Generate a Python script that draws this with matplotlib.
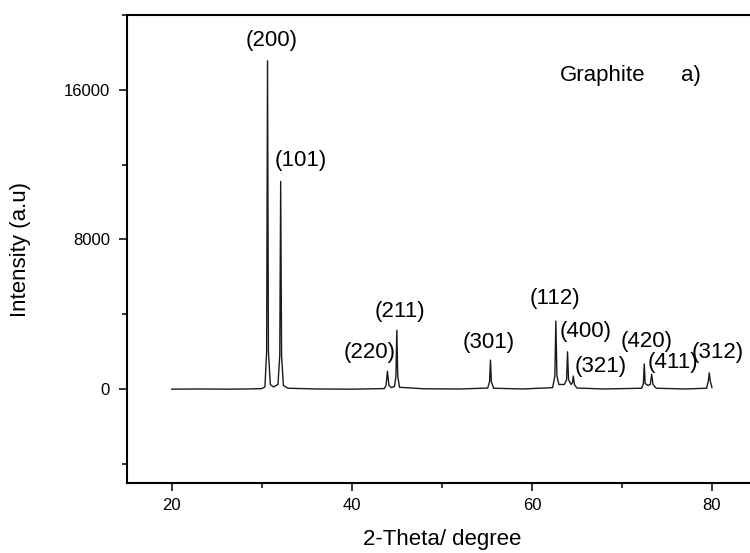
import matplotlib
matplotlib.use("Agg")
import matplotlib.pyplot as plt
from matplotlib.ticker import MultipleLocator

plt.rcParams['font.family'] = ['Liberation Sans', 'DejaVu Sans']

# XRD pattern vertices (2-theta in degrees, intensity in a.u.)
two_theta = [20.0, 23.0, 26.0, 28.5, 30.0, 30.35, 30.54, 30.64, 30.74, 30.95, 31.3,
             31.8, 32.0, 32.1, 32.2, 32.4, 32.9, 36.0, 40.0, 43.6, 43.8, 43.96, 44.12,
             44.4, 44.75, 44.9, 45.0, 45.1, 45.3, 48.0, 52.0, 55.1, 55.3, 55.4, 55.5,
             55.75, 59.0, 62.3, 62.55, 62.66, 62.78, 63.0, 63.6, 63.85, 63.96, 64.07,
             64.35, 64.5, 64.6, 64.72, 65.0, 68.0, 72.2, 72.38, 72.48, 72.58, 72.9,
             73.15, 73.3, 73.45, 73.8, 77.0, 79.4, 79.6, 79.7, 79.8, 80.0]
intensity = [0, 10, 0, 10, 30, 120, 2000, 17550, 2000, 250, 120,
             250, 1800, 11100, 1800, 200, 50, 10, 0, 30, 200, 960, 200,
             80, 150, 700, 3150, 700, 100, 20, 10, 60, 400, 1550, 400,
             50, 10, 80, 700, 3640, 700, 250, 250, 500, 2000, 500,
             250, 350, 700, 250, 60, 10, 50, 300, 1350, 300, 200,
             250, 790, 250, 50, 10, 50, 450, 870, 450, 80]

# Miller index labels (text, x, y) in data units
hkl_labels = ["(200)", "(101)", "(220)", "(211)", "(301)", "(112)",
              "(400)", "(321)", "(420)", "(411)", "(312)"]
hkl_x = [31.14, 34.35, 41.93, 45.31, 55.2, 62.53, 65.95, 67.64, 72.76, 75.62, 80.61]
hkl_y = [18620, 12200, 1940, 4170, 2480, 4850, 3100, 1230, 2570, 1440, 1940]

fig = plt.figure(figsize=(7.5, 5.53), dpi=100)
ax = fig.add_axes([126.7 / 750, 1 - 482.7 / 553, (757 - 126.7) / 750, (482.7 - 15) / 553])

ax.plot(two_theta, intensity, color='#1a1a1a', linewidth=1.0)

ax.set_xlim(15, 85)
ax.set_ylim(-5000, 20000)

ax.xaxis.set_major_locator(MultipleLocator(20))
ax.xaxis.set_minor_locator(MultipleLocator(10))
ax.yaxis.set_major_locator(MultipleLocator(8000))
ax.yaxis.set_minor_locator(MultipleLocator(4000))

for s in ax.spines.values():
    s.set_linewidth(1.5)
ax.spines['right'].set_visible(False)

ax.tick_params(which='major', direction='out', length=6, width=1.1, labelsize=12)
ax.tick_params(which='minor', direction='out', length=3.8, width=1.1)
ax.tick_params(axis='x', which='major', pad=5)
ax.tick_params(axis='y', which='major', pad=6)
ax.tick_params(top=False, right=False, which='both')

ax.set_xlabel("2-Theta/ degree", fontsize=16, va='center')
ax.xaxis.set_label_coords(0.5, -0.122)
ax.set_ylabel("Intensity (a.u)", fontsize=16, va='center')
ax.yaxis.set_label_coords(-0.169, 0.498)

for t, x, y in zip(hkl_labels, hkl_x, hkl_y):
    ax.text(x, y, t, fontsize=16, ha='center', va='center', color='black')

ax.text(67.8, 16750, "Graphite", fontsize=16, ha='center', va='center')
ax.text(77.66, 16750, "a)", fontsize=16, ha='center', va='center')

fig.savefig("out.png", dpi=100)
